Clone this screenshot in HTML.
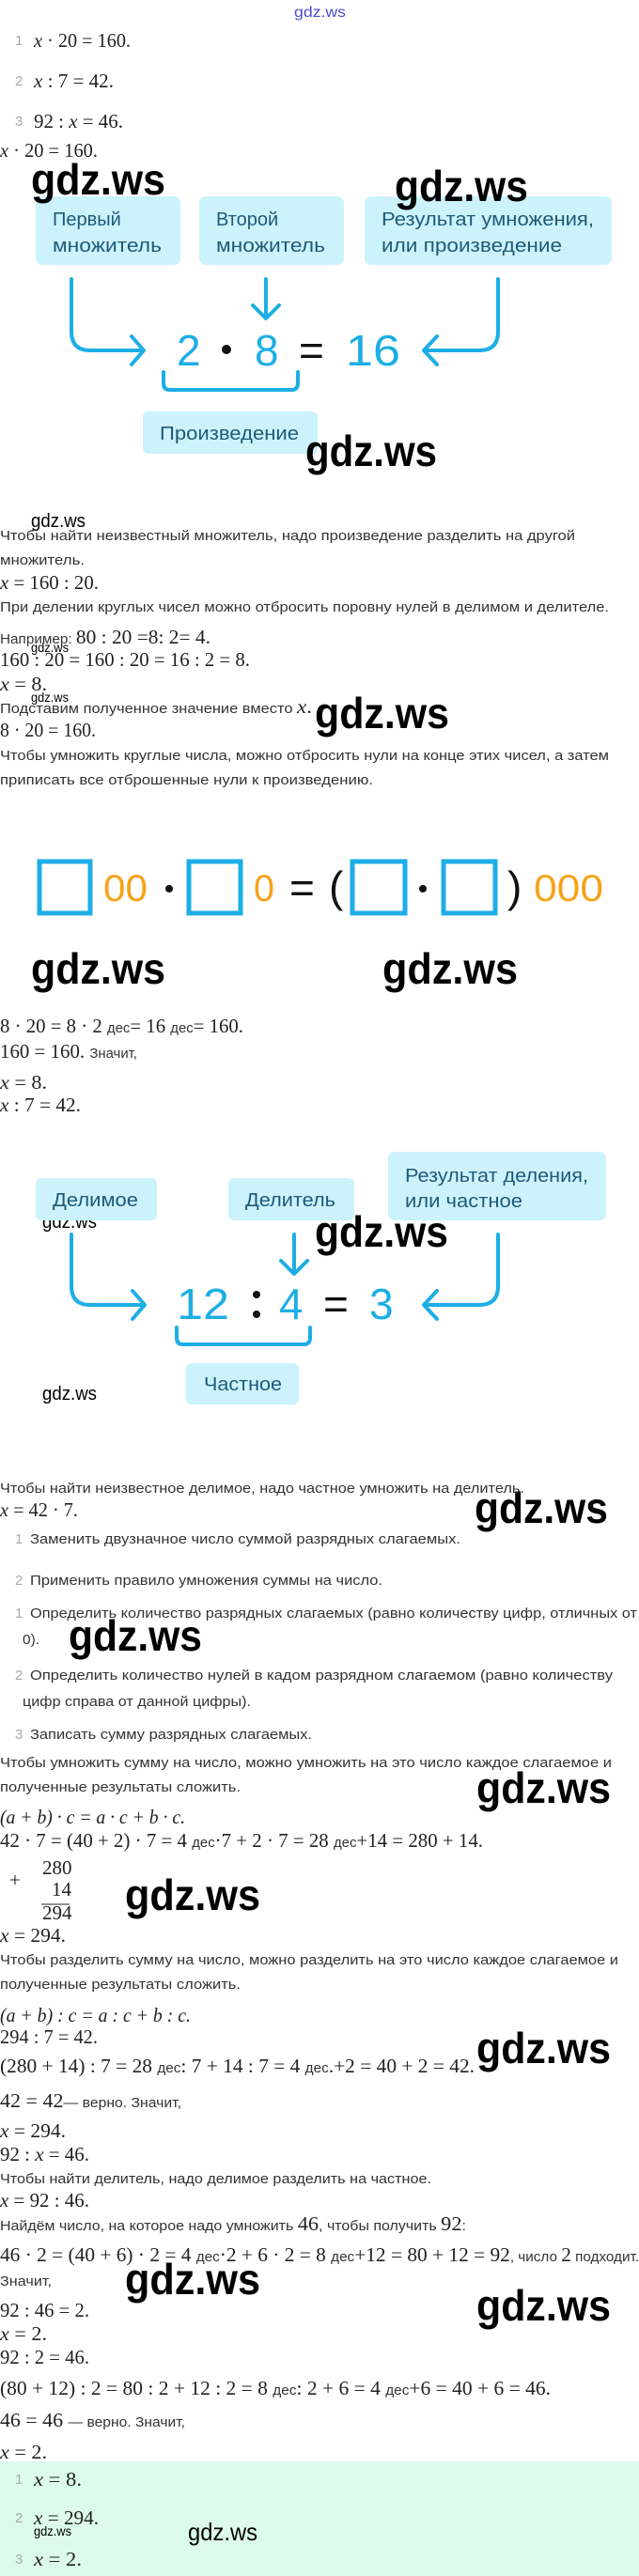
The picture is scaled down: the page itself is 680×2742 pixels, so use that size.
<!DOCTYPE html>
<html><head><meta charset="utf-8"><style>
html,body{margin:0;padding:0;background:#fff;width:680px;height:2742px;overflow:hidden}
svg{display:block}
.s{font-family:"Liberation Sans",sans-serif;font-size:15px;fill:#333}
.m{font-family:"Liberation Serif",serif;font-size:21px;fill:#222}
.n{font-family:"Liberation Sans",sans-serif;font-size:15px;fill:#aaa}
.w{font-family:"Liberation Sans",sans-serif;font-size:46px;font-weight:bold;fill:#000}
.ws{font-family:"Liberation Sans",sans-serif;fill:#000}
.bt{font-family:"Liberation Sans",sans-serif;font-size:20px;fill:#1d5a7a}
.eq{font-family:"Liberation Sans",sans-serif;font-size:46px;fill:#1daee6}
.or{font-family:"Liberation Sans",sans-serif;font-size:40px;fill:#f5a31a}
.dk{font-family:"Liberation Sans",sans-serif;font-size:46px;fill:#111}
.ar{fill:none;stroke:#1daee6;stroke-width:4;stroke-linecap:round;stroke-linejoin:round}
</style></head><body>
<svg width="680" height="2742" xmlns="http://www.w3.org/2000/svg">
<rect x="0" y="2620" width="680" height="122" fill="#dcfbec"/>
<text x="313" y="18" font-family="Liberation Sans" font-size="16" fill="#4a4ad0" textLength="55" lengthAdjust="spacingAndGlyphs">gdz.ws</text>

<g class="m">
<text class="n" x="16" y="48">1</text><text x="36" y="50" textLength="103" lengthAdjust="spacingAndGlyphs"><tspan font-style="italic">x</tspan> · 20 = 160.</text>
<text class="n" x="16" y="91">2</text><text x="36" y="93" textLength="85" lengthAdjust="spacingAndGlyphs"><tspan font-style="italic">x</tspan> : 7 = 42.</text>
<text class="n" x="16" y="134">3</text><text x="36" y="136" textLength="95" lengthAdjust="spacingAndGlyphs">92 : <tspan font-style="italic">x</tspan> = 46.</text>
<text x="0" y="167" textLength="104" lengthAdjust="spacingAndGlyphs"><tspan font-style="italic">x</tspan> · 20 = 160.</text>
</g>

<!-- diagram 1 -->
<rect x="38" y="209" width="154" height="73" rx="7" fill="#ccf2fb"/>
<rect x="212" y="209" width="154" height="73" rx="7" fill="#ccf2fb"/>
<rect x="388" y="209" width="263" height="73" rx="7" fill="#ccf2fb"/>
<text class="bt" x="56" y="240">Первый</text>
<text class="bt" x="56" y="268" textLength="116" lengthAdjust="spacingAndGlyphs">множитель</text>
<text class="bt" x="230" y="240">Второй</text>
<text class="bt" x="230" y="268" textLength="116" lengthAdjust="spacingAndGlyphs">множитель</text>
<text class="bt" x="406" y="240" textLength="226" lengthAdjust="spacingAndGlyphs">Результат умножения,</text>
<text class="bt" x="406" y="268" textLength="192" lengthAdjust="spacingAndGlyphs">или произведение</text>
<path class="ar" d="M76 297 V353 Q76 373 96 373 H151 M140 358 L153 373 L140 388"/>
<path class="ar" d="M283 297 V338 M269 325 L283 339 L297 325"/>
<path class="ar" d="M530 297 V353 Q530 373 510 373 H452 M465 358 L451 373 L465 388"/>
<path class="ar" d="M174 396 V408 Q174 415 181 415 H310 Q317 415 317 408 V396"/>
<text class="eq" x="188" y="389">2</text>
<circle cx="241" cy="372" r="5" fill="#111"/>
<text class="eq" x="271" y="389">8</text>
<text class="dk" x="318" y="389">=</text>
<text class="eq" x="368" y="389" textLength="58" lengthAdjust="spacingAndGlyphs">16</text>
<rect x="152" y="438" width="186" height="45" rx="6" fill="#ccf2fb"/>
<text class="bt" x="170" y="468" textLength="148" lengthAdjust="spacingAndGlyphs">Произведение</text>

<!-- watermarks -->
<g class="w">
<text x="33" y="207" textLength="143" lengthAdjust="spacingAndGlyphs">gdz.ws</text>
<text x="420" y="214" textLength="142" lengthAdjust="spacingAndGlyphs">gdz.ws</text>
<text x="325" y="496" textLength="140" lengthAdjust="spacingAndGlyphs">gdz.ws</text>
<text x="335" y="775" textLength="143" lengthAdjust="spacingAndGlyphs">gdz.ws</text>
<text x="33" y="1047" textLength="143" lengthAdjust="spacingAndGlyphs">gdz.ws</text>
<text x="407" y="1047" textLength="144" lengthAdjust="spacingAndGlyphs">gdz.ws</text>
<text x="335" y="1327" textLength="142" lengthAdjust="spacingAndGlyphs">gdz.ws</text>
<text x="505" y="1621" textLength="142" lengthAdjust="spacingAndGlyphs">gdz.ws</text>
<text x="73" y="1757" textLength="142" lengthAdjust="spacingAndGlyphs">gdz.ws</text>
<text x="507" y="1919" textLength="143" lengthAdjust="spacingAndGlyphs">gdz.ws</text>
<text x="133" y="2033" textLength="144" lengthAdjust="spacingAndGlyphs">gdz.ws</text>
<text x="507" y="2196" textLength="143" lengthAdjust="spacingAndGlyphs">gdz.ws</text>
<text x="133" y="2442" textLength="144" lengthAdjust="spacingAndGlyphs">gdz.ws</text>
<text x="507" y="2470" textLength="143" lengthAdjust="spacingAndGlyphs">gdz.ws</text>
</g>
<g class="ws">
<text x="33" y="561" font-size="20" textLength="58" lengthAdjust="spacingAndGlyphs">gdz.ws</text>
<text x="33" y="694" font-size="14" textLength="40" lengthAdjust="spacingAndGlyphs">gdz.ws</text>
<text x="33" y="747" font-size="14" textLength="40" lengthAdjust="spacingAndGlyphs">gdz.ws</text>
<text x="45" y="1307" font-size="20" textLength="58" lengthAdjust="spacingAndGlyphs">gdz.ws</text>
<text x="45" y="1490" font-size="20" textLength="58" lengthAdjust="spacingAndGlyphs">gdz.ws</text>
<text x="36" y="2699" font-size="14" textLength="40" lengthAdjust="spacingAndGlyphs">gdz.ws</text>
<text x="200" y="2704" font-size="26" textLength="74" lengthAdjust="spacingAndGlyphs">gdz.ws</text>
</g>

<!-- text block 1 -->
<text class="s" x="0" y="575" textLength="612" lengthAdjust="spacingAndGlyphs">Чтобы найти неизвестный множитель, надо произведение разделить на другой</text>
<text class="s" x="0" y="601" textLength="90" lengthAdjust="spacingAndGlyphs">множитель.</text>
<text class="m" x="0" y="627" textLength="105" lengthAdjust="spacingAndGlyphs"><tspan font-style="italic">x</tspan> = 160 : 20.</text>
<text class="s" x="0" y="651" textLength="648" lengthAdjust="spacingAndGlyphs">При делении круглых чисел можно отбросить поровну нулей в делимом и делителе.</text>
<text class="m" x="0" y="685" textLength="224" lengthAdjust="spacingAndGlyphs"><tspan class="s">Например: </tspan>80 : 20 =8: 2= 4.</text>
<text class="m" x="0" y="709" textLength="266" lengthAdjust="spacingAndGlyphs">160 : 20 = 160 : 20 = 16 : 2 = 8.</text>
<text class="m" x="0" y="735" textLength="50" lengthAdjust="spacingAndGlyphs"><tspan font-style="italic">x</tspan> = 8.</text>
<text class="s" x="0" y="759" textLength="332" lengthAdjust="spacingAndGlyphs">Подставим полученное значение вместо <tspan class="m" font-style="italic">x</tspan><tspan class="m">.</tspan></text>
<text class="m" x="0" y="784" textLength="102" lengthAdjust="spacingAndGlyphs">8 · 20 = 160.</text>
<text class="s" x="0" y="809" textLength="648" lengthAdjust="spacingAndGlyphs">Чтобы умножить круглые числа, можно отбросить нули на конце этих чисел, а затем</text>
<text class="s" x="0" y="835" textLength="397" lengthAdjust="spacingAndGlyphs">приписать все отброшенные нули к произведению.</text>

<!-- squares row -->
<g fill="none" stroke="#1daee6" stroke-width="5">
<rect x="42" y="917" width="54" height="55"/>
<rect x="201" y="917" width="55" height="55"/>
<rect x="375" y="917" width="56" height="55"/>
<rect x="472" y="917" width="55" height="55"/>
</g>
<text class="or" x="110" y="959" textLength="47" lengthAdjust="spacingAndGlyphs">00</text>
<circle cx="180" cy="946" r="4" fill="#111"/>
<text class="or" x="270" y="959" textLength="22" lengthAdjust="spacingAndGlyphs">0</text>
<text class="dk" x="308" y="961" font-size="40">=</text>
<text class="dk" x="350" y="960" font-size="40">(</text>
<circle cx="450" cy="946" r="4" fill="#111"/>
<text class="dk" x="540" y="960" font-size="40">)</text>
<text class="or" x="568" y="959" textLength="74" lengthAdjust="spacingAndGlyphs">000</text>

<text class="m" x="0" y="1099" textLength="259" lengthAdjust="spacingAndGlyphs">8 · 20 = 8 · 2 <tspan class="s">дес</tspan>= 16 <tspan class="s">дес</tspan>= 160.</text>
<text class="m" x="0" y="1126" textLength="146" lengthAdjust="spacingAndGlyphs">160 = 160. <tspan class="s">Значит,</tspan></text>
<text class="m" x="0" y="1159" textLength="50" lengthAdjust="spacingAndGlyphs"><tspan font-style="italic">x</tspan> = 8.</text>
<text class="m" x="0" y="1183" textLength="86" lengthAdjust="spacingAndGlyphs"><tspan font-style="italic">x</tspan> : 7 = 42.</text>

<!-- diagram 2 -->
<rect x="38" y="1254" width="129" height="45" rx="6" fill="#ccf2fb"/>
<rect x="243" y="1254" width="134" height="45" rx="6" fill="#ccf2fb"/>
<rect x="413" y="1226" width="232" height="73" rx="7" fill="#ccf2fb"/>
<text class="bt" x="56" y="1284" textLength="91" lengthAdjust="spacingAndGlyphs">Делимое</text>
<text class="bt" x="261" y="1284" textLength="96" lengthAdjust="spacingAndGlyphs">Делитель</text>
<text class="bt" x="431" y="1258" textLength="195" lengthAdjust="spacingAndGlyphs">Результат деления,</text>
<text class="bt" x="431" y="1285" textLength="125" lengthAdjust="spacingAndGlyphs">или частное</text>
<path class="ar" d="M76 1314 V1369 Q76 1389 96 1389 H152 M141 1374 L154 1389 L141 1404"/>
<path class="ar" d="M313 1314 V1355 M299 1342 L313 1356 L327 1342"/>
<path class="ar" d="M530 1314 V1369 Q530 1389 510 1389 H452 M465 1374 L451 1389 L465 1404"/>
<path class="ar" d="M188 1413 V1424 Q188 1431 195 1431 H323 Q330 1431 330 1424 V1413"/>
<text class="eq" x="188" y="1404" textLength="56" lengthAdjust="spacingAndGlyphs">12</text>
<circle cx="273" cy="1378" r="4" fill="#111"/>
<circle cx="273" cy="1399" r="4" fill="#111"/>
<text class="eq" x="297" y="1404">4</text>
<text class="dk" x="344" y="1404">=</text>
<text class="eq" x="393" y="1404">3</text>
<rect x="198" y="1451" width="120" height="44" rx="6" fill="#ccf2fb"/>
<text class="bt" x="217" y="1480" textLength="83" lengthAdjust="spacingAndGlyphs">Частное</text>

<!-- text block 2 -->
<text class="s" x="0" y="1589" textLength="558" lengthAdjust="spacingAndGlyphs">Чтобы найти неизвестное делимое, надо частное умножить на делитель.</text>
<text class="m" x="0" y="1614" textLength="83" lengthAdjust="spacingAndGlyphs"><tspan font-style="italic">x</tspan> = 42 · 7.</text>
<text class="n" x="16" y="1643">1</text><text class="s" x="32" y="1643" textLength="458" lengthAdjust="spacingAndGlyphs">Заменить двузначное число суммой разрядных слагаемых.</text>
<text class="n" x="16" y="1687">2</text><text class="s" x="32" y="1687" textLength="375" lengthAdjust="spacingAndGlyphs">Применить правило умножения суммы на число.</text>
<text class="n" x="16" y="1722">1</text><text class="s" x="32" y="1722" textLength="646" lengthAdjust="spacingAndGlyphs">Определить количество разрядных слагаемых (равно количеству цифр, отличных от</text>
<text class="s" x="24" y="1750" textLength="18" lengthAdjust="spacingAndGlyphs">0).</text>
<text class="n" x="16" y="1788">2</text><text class="s" x="32" y="1788" textLength="620" lengthAdjust="spacingAndGlyphs">Определить количество нулей в кадом разрядном слагаемом (равно количеству</text>
<text class="s" x="24" y="1816" textLength="243" lengthAdjust="spacingAndGlyphs">цифр справа от данной цифры).</text>
<text class="n" x="16" y="1851">3</text><text class="s" x="32" y="1851" textLength="300" lengthAdjust="spacingAndGlyphs">Записать сумму разрядных слагаемых.</text>
<text class="s" x="0" y="1881" textLength="651" lengthAdjust="spacingAndGlyphs">Чтобы умножить сумму на число, можно умножить на это число каждое слагаемое и</text>
<text class="s" x="0" y="1907" textLength="256" lengthAdjust="spacingAndGlyphs">полученные результаты сложить.</text>
<text class="m" x="0" y="1941" textLength="197" lengthAdjust="spacingAndGlyphs" font-style="italic">(a + b) · c = a · c + b · c.</text>
<text class="m" x="0" y="1966" textLength="514" lengthAdjust="spacingAndGlyphs">42 · 7 = (40 + 2) · 7 = 4 <tspan class="s">дес</tspan>·7 + 2 · 7 = 28 <tspan class="s">дес</tspan>+14 = 280 + 14.</text>
<text class="m" x="45" y="1995">280</text>
<text class="m" x="10" y="2008">+</text>
<text class="m" x="55" y="2018">14</text>
<line x1="44" y1="2027" x2="74" y2="2027" stroke="#222" stroke-width="1"/>
<text class="m" x="45" y="2043">294</text>
<text class="m" x="0" y="2067" textLength="70" lengthAdjust="spacingAndGlyphs"><tspan font-style="italic">x</tspan> = 294.</text>
<text class="s" x="0" y="2091" textLength="658" lengthAdjust="spacingAndGlyphs">Чтобы разделить сумму на число, можно разделить на это число каждое слагаемое и</text>
<text class="s" x="0" y="2117" textLength="256" lengthAdjust="spacingAndGlyphs">полученные результаты сложить.</text>
<text class="m" x="0" y="2152" textLength="203" lengthAdjust="spacingAndGlyphs" font-style="italic">(a + b) : c = a : c + b : c.</text>
<text class="m" x="0" y="2175" textLength="104" lengthAdjust="spacingAndGlyphs">294 : 7 = 42.</text>
<text class="m" x="0" y="2206" textLength="505" lengthAdjust="spacingAndGlyphs">(280 + 14) : 7 = 28 <tspan class="s">дес</tspan>: 7 + 14 : 7 = 4 <tspan class="s">дес</tspan>.+2 = 40 + 2 = 42.</text>
<text class="m" x="0" y="2243" textLength="193" lengthAdjust="spacingAndGlyphs">42 = 42<tspan class="s">— верно. Значит,</tspan></text>
<text class="m" x="0" y="2275" textLength="70" lengthAdjust="spacingAndGlyphs"><tspan font-style="italic">x</tspan> = 294.</text>
<text class="m" x="0" y="2300" textLength="95" lengthAdjust="spacingAndGlyphs">92 : <tspan font-style="italic">x</tspan> = 46.</text>
<text class="s" x="0" y="2324" textLength="459" lengthAdjust="spacingAndGlyphs">Чтобы найти делитель, надо делимое разделить на частное.</text>
<text class="m" x="0" y="2349" textLength="95" lengthAdjust="spacingAndGlyphs"><tspan font-style="italic">x</tspan> = 92 : 46.</text>
<text class="s" x="0" y="2374" textLength="496" lengthAdjust="spacingAndGlyphs">Найдём число, на которое надо умножить <tspan class="m">46</tspan>, чтобы получить <tspan class="m">92</tspan>:</text>
<text class="m" x="0" y="2407" textLength="680" lengthAdjust="spacingAndGlyphs">46 · 2 = (40 + 6) · 2 = 4 <tspan class="s">дес</tspan>·2 + 6 · 2 = 8 <tspan class="s">дес</tspan>+12 = 80 + 12 = 92<tspan class="s">, число </tspan>2<tspan class="s"> подходит.</tspan></text>
<text class="s" x="0" y="2433" textLength="55" lengthAdjust="spacingAndGlyphs">Значит,</text>
<text class="m" x="0" y="2466" textLength="95" lengthAdjust="spacingAndGlyphs">92 : 46 = 2.</text>
<text class="m" x="0" y="2491" textLength="50" lengthAdjust="spacingAndGlyphs"><tspan font-style="italic">x</tspan> = 2.</text>
<text class="m" x="0" y="2516" textLength="95" lengthAdjust="spacingAndGlyphs">92 : 2 = 46.</text>
<text class="m" x="0" y="2549" textLength="586" lengthAdjust="spacingAndGlyphs">(80 + 12) : 2 = 80 : 2 + 12 : 2 = 8 <tspan class="s">дес</tspan>: 2 + 6 = 4 <tspan class="s">дес</tspan>+6 = 40 + 6 = 46.</text>
<text class="m" x="0" y="2583" textLength="197" lengthAdjust="spacingAndGlyphs">46 = 46 <tspan class="s">— верно. Значит,</tspan></text>
<text class="m" x="0" y="2617" textLength="50" lengthAdjust="spacingAndGlyphs"><tspan font-style="italic">x</tspan> = 2.</text>

<text class="n" x="16" y="2644">1</text><text class="m" x="36" y="2646" textLength="51" lengthAdjust="spacingAndGlyphs"><tspan font-style="italic">x</tspan> = 8.</text>
<text class="n" x="16" y="2685">2</text><text class="m" x="36" y="2687" textLength="69" lengthAdjust="spacingAndGlyphs"><tspan font-style="italic">x</tspan> = 294.</text>
<text class="n" x="16" y="2729">3</text><text class="m" x="36" y="2731" textLength="51" lengthAdjust="spacingAndGlyphs"><tspan font-style="italic">x</tspan> = 2.</text>
</svg>
</body></html>
